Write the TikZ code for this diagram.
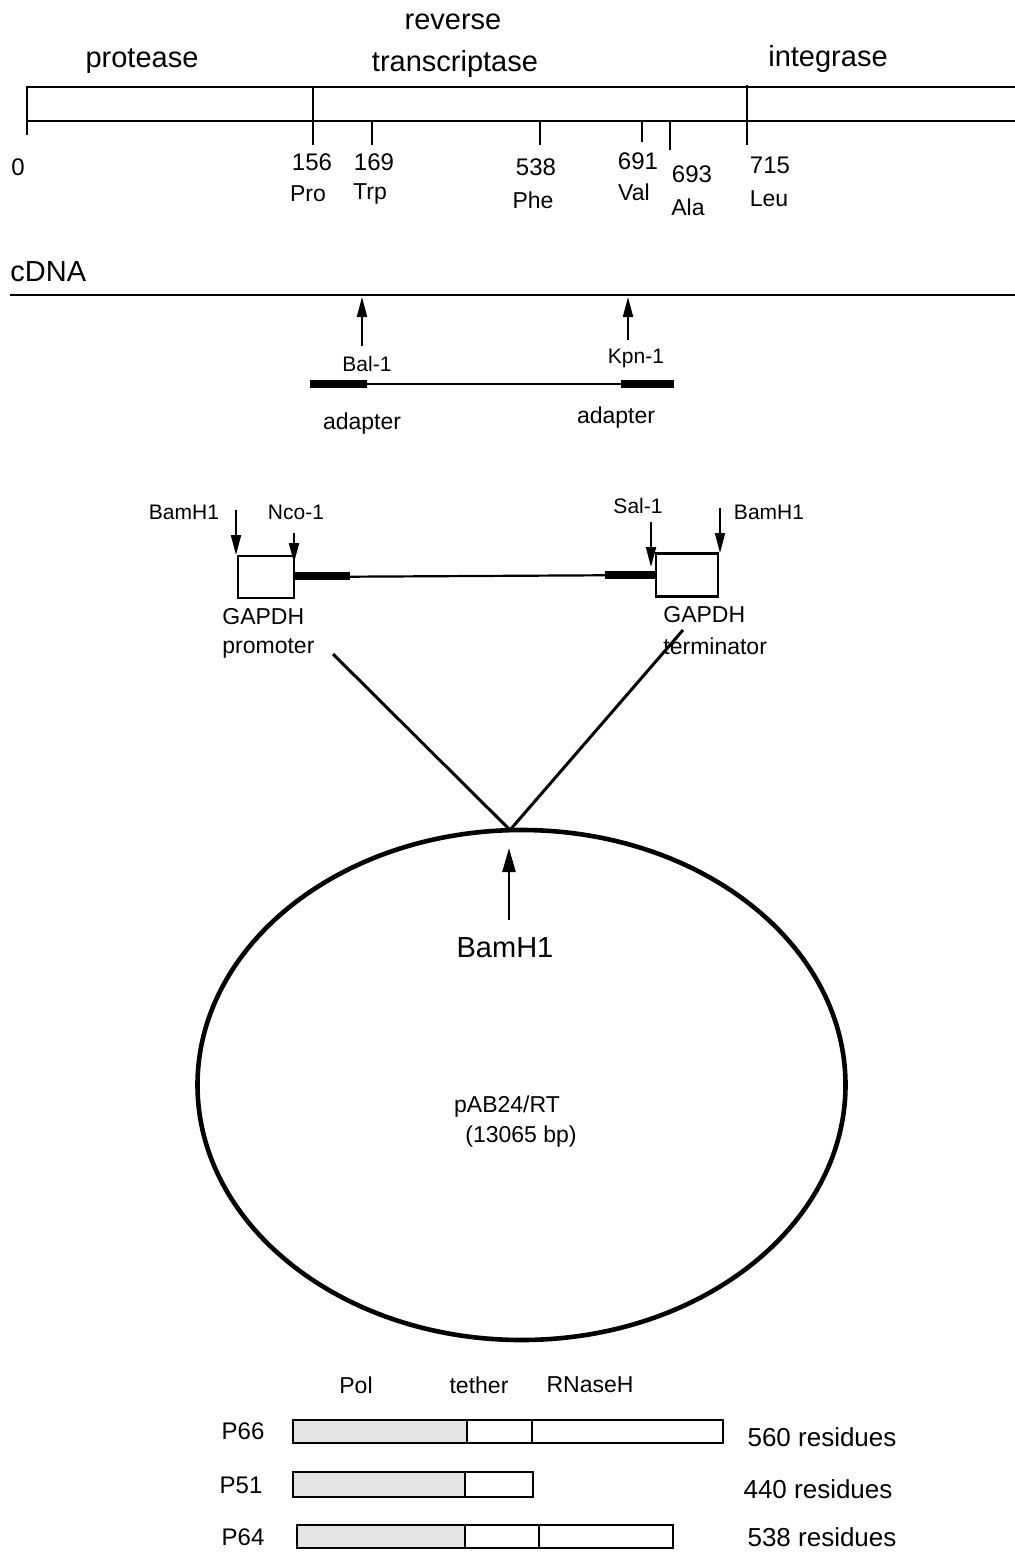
\documentclass[tikz,border=0pt]{standalone}
\usepackage{fontspec}
\setmainfont{Liberation Sans}
\usetikzlibrary{arrows.meta,shapes.geometric}
\tikzset{
  big/.style={font=\fontsize{14.5}{16}\selectfont,inner sep=0pt},
  num/.style={font=\fontsize{12}{14}\selectfont,inner sep=0pt},
  lbl/.style={font=\fontsize{11.5}{13}\selectfont,inner sep=0pt},
  site/.style={font=\fontsize{10.5}{12}\selectfont,inner sep=0pt},
  cut/.style={-{Triangle[length=10pt,width=5pt]},line width=1pt},
  strand/.style={line width=1.4pt},
  fragment/.style={line width=1.1pt},
  segbox/.style={draw,line width=1.3pt,inner sep=0pt}
}
\begin{document}
\begin{tikzpicture}[x=0.5pt,y=-0.5pt]
  \useasboundingbox (0,0) rectangle (1015,1552);

  % gene map
  \node[big] (RT1) at (453,22){reverse};
  \node[big] (RT2) at (455,64){transcriptase};
  \node[big] (PR) at (142,61){protease};
  \node[big] (IN) at (828,59){integrase};

  \draw[strand] (1015,87) -- (27,87) -- (27,135);
  \draw[strand] (27,121) -- (1015,121);
  \foreach \x/\ya/\yb in {313/87/145,747/85/145,372/121/145,540/121/145,642/121/142,670/121/150}
    \draw[line width=1.1pt] (\x,\ya) -- (\x,\yb);

  \node[num] (n0) at (18,167){0};
  \node[num] (n156) at (312,162){156};
  \node[lbl] (Pro) at (308,194){Pro};
  \node[num] (n169) at (374,162){169};
  \node[lbl] (Trp) at (370,194){Trp};
  \node[num] (n538) at (536,167){538};
  \node[lbl] (Phe) at (533,200){Phe};
  \node[num] (n691) at (638,161){691};
  \node[lbl] (Val) at (634,192){Val};
  \node[num] (n693) at (692,174){693};
  \node[lbl] (Ala) at (688,207){Ala};
  \node[num] (n715) at (770,165){715};
  \node[lbl] (Leu) at (769,199){Leu};

  % cDNA
  \node[big,anchor=west] (cDNA) at (10,272){cDNA};
  \draw[strand] (10,295) -- (1015,295);
  \coordinate (BalHead) at (362,297);
  \coordinate (BalTail) at (362,346);
  \coordinate (KpnHead) at (628,297);
  \coordinate (KpnTail) at (628,340);
  \draw (BalTail) edge[cut] (BalHead);
  \draw (KpnTail) edge[cut] (KpnHead);
  \node[site] (Bal) at (367,364){Bal-1};
  \node[site] (Kpn) at (636,358){Kpn-1};

  \draw[fragment] (310,384) -- (674,384);
  \fill (310,380) rectangle (367,388);
  \fill (621,380) rectangle (674,388);
  \node[lbl] (adL) at (362,424){adapter};
  \node[lbl] (adR) at (616,418){adapter};

  % expression cassette
  \node[segbox,minimum width=28pt,minimum height=21pt] (prom) at (266,577){};
  \node[segbox,minimum width=31pt,minimum height=21.5pt] (term) at (687,575){};
  \draw[fragment] (prom.east) -- (term.west);
  \fill (294,572) rectangle (350,580);
  \fill (605,571) rectangle (656,579);

  \coordinate (BamLTail) at (236,510);
  \coordinate (BamLHead) at (236,555);
  \coordinate (NcoTail) at (294,533);
  \coordinate (NcoHead) at (294,563);
  \coordinate (SalTail) at (651,522);
  \coordinate (SalHead) at (651,567);
  \coordinate (BamRTail) at (720,508);
  \coordinate (BamRHead) at (720,553);
  \draw (BamLTail) edge[cut] (BamLHead);
  \draw (NcoTail) edge[cut] (NcoHead);
  \draw (SalTail) edge[cut] (SalHead);
  \draw (BamRTail) edge[cut] (BamRHead);
  \node[site] (BamL) at (184,512){BamH1};
  \node[site] (Nco) at (296,512){Nco-1};
  \node[site] (Sal) at (638,506){Sal-1};
  \node[site] (BamR) at (769,512){BamH1};

  \node[lbl,anchor=west] (gpL) at (222,617){GAPDH};
  \node[lbl,anchor=west] (promtxt) at (222,648){promoter};
  \node[lbl,anchor=west] (gpR) at (663,615){GAPDH};
  \node[lbl,anchor=west] (termtxt) at (663,646){terminator};

  % plasmid
  \node[draw,ellipse,line width=2.3pt,inner sep=0pt,minimum width=324pt,minimum height=255pt] (plasmid) at (521.5,1085){};
  \coordinate (promLeg) at (333,654);
  \coordinate (termLeg) at (683,630);
  \coordinate (apex) at (510,830);
  \draw[line width=1.5pt] (promLeg) -- (apex) -- (termLeg);
  \coordinate (BamTail) at (509,920);
  \coordinate (BamHead) at (509,848);
  \draw (BamTail) edge[-{Triangle[length=12pt,width=6.5pt]},line width=1.2pt] (BamHead);
  \node[big] (Bam) at (505,948){BamH1};
  \node[lbl] (pAB) at (507,1107){pAB24/RT};
  \node[lbl] (bp) at (521,1137){(13065 bp)};

  % protein forms
  \node[lbl] (Pol) at (356,1385){Pol};
  \node[lbl] (tether) at (479,1385){tether};
  \node[lbl] (RNaseH) at (590,1385){RNaseH};

  \fill[gray!22] (293,1420) rectangle (467,1443);
  \draw[line width=1.3pt] (293,1420) rectangle (723,1443);
  \draw[line width=1.1pt] (467,1420) -- (467,1443) (532,1420) -- (532,1443);
  \fill[gray!22] (293,1472) rectangle (465,1497);
  \draw[line width=1.3pt] (293,1472) rectangle (533,1497);
  \draw[line width=1.1pt] (465,1472) -- (465,1497);
  \fill[gray!22] (297,1525) rectangle (465,1548);
  \draw[line width=1.3pt] (297,1525) rectangle (673,1548);
  \draw[line width=1.1pt] (465,1525) -- (465,1548) (539,1525) -- (539,1548);

  \node[num] (P66) at (243,1431){P66};
  \node[num] (P51) at (241,1485){P51};
  \node[num] (P64) at (243,1537){P64};
  \node[big,font=\fontsize{13}{15}\selectfont] (r560) at (822,1437){560 residues};
  \node[big,font=\fontsize{13}{15}\selectfont] (r440) at (818,1489){440 residues};
  \node[big,font=\fontsize{13}{15}\selectfont] (r538) at (822,1537){538 residues};
\end{tikzpicture}
\end{document}
